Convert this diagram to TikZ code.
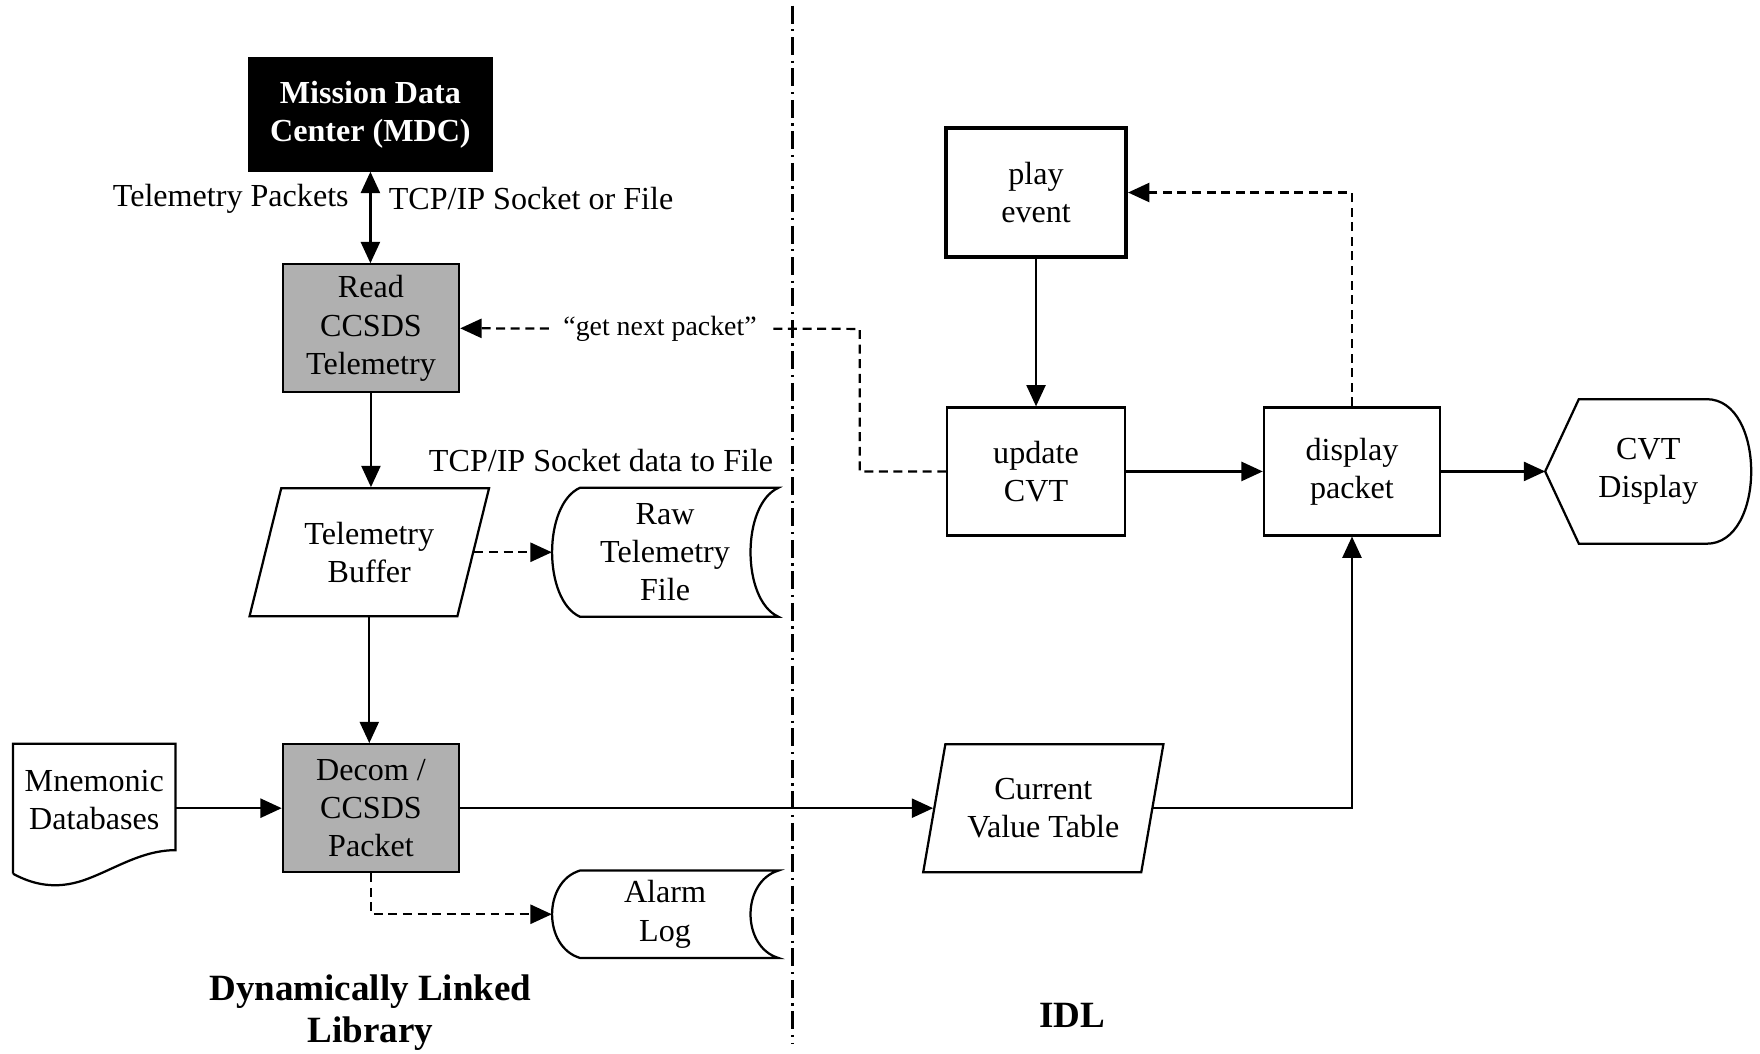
\documentclass[tikz,border=0pt]{standalone}
\usepackage{fontspec}
\setmainfont{Liberation Serif}
\usetikzlibrary{shapes.geometric,arrows.meta,calc}
\begin{document}
\begin{tikzpicture}[x=0.5pt,y=-0.5pt,
  base/.style={font=\fontsize{14.3}{17}\selectfont, align=center, inner sep=0pt},
  procbox/.style={base, draw, line width=1pt, rectangle},
  graybox/.style={procbox, fill=gray!62, minimum width=78.5pt, minimum height=57pt},
  plainbox/.style={procbox, minimum width=79pt, minimum height=57pt},
  para/.style={base, draw, line width=1pt, trapezium, trapezium stretches=true, minimum height=57pt},
  outline/.style={line width=1pt},
  arr/.style={line width=1pt, -{Triangle[length=9.5pt,width=8.5pt]}},
  darr/.style={arr, dash pattern=on 4pt off 2.5pt},
  title/.style={base, font=\bfseries\fontsize{16.5}{18.5}\selectfont}
]
\useasboundingbox (0,0) rectangle (1568,939);

% divider
\draw[line width=1pt, dash pattern=on 8pt off 2.5pt on 1pt off 2.5pt] (706,5) -- (706,930);

% nodes
\node[procbox, fill=black, text=white, font=\bfseries\fontsize{14.3}{17}\selectfont,
      minimum width=108pt, minimum height=50pt] (mdc) at (330,102) {Mission Data\\Center (MDC)};
\node[graybox] (read) at (330.5,292.5) {Read\\CCSDS\\Telemetry};
\node[para, trapezium left angle=69, trapezium right angle=111, minimum width=107pt] (buf) at (329,492) {Telemetry\\Buffer};
\node[graybox] (decom) at (330.5,720) {Decom /\\CCSDS\\Packet};
\node[base, minimum width=100.5pt, minimum height=57pt] (raw) at (592.5,492) {Raw\\Telemetry\\File};
\node[base, minimum width=100.5pt, minimum height=38.5pt] (alarm) at (592.5,814.5) {Alarm\\Log};
\node[base, minimum width=72pt, minimum height=50pt] (mnem) at (84,713) {Mnemonic\\Databases};
\node[plainbox, line width=2pt, minimum width=80pt, minimum height=57.5pt] (play) at (923,171.5) {play\\event};
\node[plainbox] (upd) at (923,420) {update\\CVT};
\node[plainbox, minimum width=78.5pt] (disp) at (1204.5,420) {display\\packet};
\node[base, minimum width=91.5pt, minimum height=64pt] (cvtd) at (1468.5,420) {CVT\\Display};
\node[para, trapezium left angle=74, trapezium right angle=106, minimum width=107.5pt] (cvt) at (929.5,720) {Current\\Value Table};

% shape outlines
\draw[outline] ($(raw.north west)+(25,0)$) -- (raw.north east)
  .. controls +(-33,15) and +(-33,-15) .. (raw.south east)
  -- ($(raw.south west)+(25,0)$)
  .. controls +(-33,-15) and +(-33,15) .. ($(raw.north west)+(25,0)$) -- cycle;
\draw[outline] ($(alarm.north west)+(25,0)$) -- (alarm.north east)
  .. controls +(-33,10) and +(-33,-10) .. (alarm.south east)
  -- ($(alarm.south west)+(25,0)$)
  .. controls +(-33,-10) and +(-33,10) .. ($(alarm.north west)+(25,0)$) -- cycle;
\draw[outline] (cvtd.west) -- ($(cvtd.north west)+(30,0)$) -- ($(cvtd.north east)+(-40,0)$)
  .. controls +(53,0) and +(53,0) .. ($(cvtd.south east)+(-40,0)$)
  -- ($(cvtd.south west)+(30,0)$) -- cycle;
\draw[outline] ($(mnem.south west)+(0,15)$) -- (mnem.north west) -- (mnem.north east)
  -- ($(mnem.south east)+(0,-6)$)
  .. controls ($(mnem.south east)+(-31,-6)$) and ($(mnem.south east)+(-56,12)$) .. ($(mnem.south)+(-10,21)$)
  .. controls ($(mnem.south)+(-34,29)$) and ($(mnem.south)+(-54,25)$) .. ($(mnem.south west)+(0,15)$);

% labels
\node[base, anchor=east] (tpk) at (311,177) {Telemetry Packets};
\node[base, anchor=west] (tcp) at (346,177) {TCP/IP Socket or File};
\node[base] (tcpf) at (535.5,410) {TCP/IP Socket data to File};
\node[title] (dll) at (330,902) {Dynamically Linked\\Library};
\node[title] (idl) at (955,905) {IDL};

% connectors
\draw[line width=1pt, {Triangle[length=9.5pt,width=8.5pt]}-{Triangle[length=9.5pt,width=8.5pt]}]
  (mdc.south) -- (mdc.south |- read.north);
\draw[arr] (read.south) -- (read.south |- buf.north);
\draw[arr] (buf.south) -- (buf.south |- decom.north);
\draw[darr] (buf.right side) -- (raw.west);
\draw[arr] (mnem.east |- decom.west) -- (decom.west);
\draw[arr] (decom.east) -- (cvt.left side);
\draw[darr] (decom.south) |- (alarm.west);
\draw[arr] (play.south) -- (upd.north);
\draw[arr] (upd.east) -- (disp.west);
\draw[darr] (disp.north) |- (play.east);
\draw[arr] (disp.east) -- (cvtd.west);
\draw[arr] (cvt.right side) -| (disp.south);
\coordinate (gnp) at (766,293);
\draw[darr] (upd.west) -| (gnp) -- node[fill=white, inner xsep=6pt, inner ysep=2pt,
  font=\fontsize{12.4}{14}\selectfont] (gnplbl) {“get next packet”} (read.east);
\end{tikzpicture}
\end{document}
